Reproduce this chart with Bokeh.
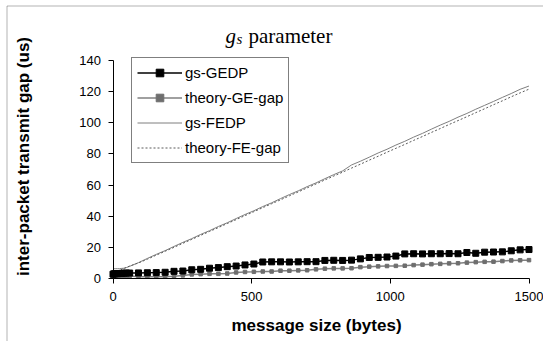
import math
from bokeh.plotting import figure
from bokeh.models import (Range1d, FixedTicker, Label, Legend, LegendItem, PolyAnnotation,
                          ColumnDataSource, LinearAxis)
from bokeh.embed import file_html
from bokeh.resources import INLINE

# ---- data ----
msg_size = [0, 4, 8, 16, 24, 32, 40, 48, 60,
            92, 124, 156, 188, 220, 252, 284, 316, 348, 380, 412, 444, 476,
            508, 540, 572, 604, 636, 668, 700, 732, 764, 796, 828, 860, 892,
            924, 956, 988, 1020, 1052, 1084, 1116, 1148, 1180, 1212, 1244,
            1276, 1308, 1340, 1372, 1404, 1436, 1468, 1500]

gs_gedp = [2.8, 3.0, 3.0, 3.1, 3.2, 3.3, 3.4, 3.5, 3.5,
           3.6, 3.7, 3.8, 4.0, 4.6, 4.8, 5.6, 5.9, 6.6, 7.0, 7.6, 8.0, 8.7,
           9.3, 10.6, 10.7, 10.7, 10.6, 10.7, 10.8, 10.8, 11.6, 11.7, 11.6, 11.8, 12.6,
           13.5, 13.6, 13.8, 14.4, 15.8, 15.9, 15.8, 15.9, 15.9, 16.0, 15.9,
           16.7, 16.2, 16.9, 17.0, 17.1, 17.8, 18.4, 18.6]

theory_ge_gap = [1.6, 1.6, 1.6, 1.6, 1.6, 1.6, 1.6, 1.6, 1.6,
                 1.2, 1.2, 1.2, 1.2, 1.5, 2.0, 2.6, 2.8, 3.0, 3.0, 3.2, 3.9, 4.2,
                 4.3, 4.5, 4.5, 5.0, 5.0, 5.2, 5.3, 5.9, 6.3, 6.5, 6.5, 6.6, 7.3,
                 7.6, 7.8, 8.0, 8.1, 8.2, 8.6, 8.9, 9.2, 9.4, 9.7, 9.8,
                 10.2, 10.5, 10.7, 10.8, 11.2, 11.6, 11.7, 11.8]

gs_fedp = [6.3, 6.3, 6.3, 6.3, 6.3, 6.5, 6.6, 7.0, 7.8,
           10.2, 12.9, 15.5, 17.9, 20.6, 23.2, 25.6, 28.3, 30.7, 33.4, 35.8, 38.5, 41.1,
           43.5, 46.2, 48.6, 51.3, 53.9, 56.3, 59.0, 61.4, 64.1, 66.7, 69.1, 72.9, 75.3,
           77.9, 80.6, 83.0, 85.7, 88.1, 90.8, 93.2, 95.9, 98.5, 100.9, 103.6,
           106.0, 108.7, 111.2, 113.7, 116.3, 118.8, 121.5, 123.6]

theory_fe_gap = [4.0, 4.0, 4.2, 4.6, 5.3, 5.9, 6.5, 7.1, 8.0,
                 10.0, 12.4, 15.0, 17.5, 20.0, 22.6, 25.1, 27.7, 30.2, 32.7, 35.3, 37.8, 40.4,
                 42.9, 45.5, 48.0, 50.5, 53.1, 55.6, 58.2, 60.7, 63.3, 65.8, 68.3, 70.9, 73.4,
                 76.0, 78.5, 81.1, 83.6, 86.1, 88.7, 91.2, 93.8, 96.3, 98.9, 101.4,
                 103.9, 106.5, 109.0, 111.6, 114.1, 116.7, 119.2, 121.6]

x_ticks = [0, 500, 1000, 1500]
y_ticks = [0, 20, 40, 60, 80, 100, 120, 140]

src = ColumnDataSource(dict(x=msg_size, gedp=gs_gedp, tge=theory_ge_gap,
                            fedp=gs_fedp, tfe=theory_fe_gap))

W, H = 543, 341
# plot-area box (canvas pixels) of the value axes
AX_L, AX_R, AX_T, AX_B = 112.5, 528.5, 60.0, 278.0
X0, X1, Y0, Y1 = 0, 1500, 0, 140
sx = (AX_R - AX_L) / (X1 - X0)
sy = (AX_B - AX_T) / (Y1 - Y0)
# the frame covers the whole canvas; the axes sit at fixed locations inside it
x_range = Range1d(X0 - AX_L / sx, X1 + (W - AX_R) / sx)
y_range = Range1d(Y0 - (H - AX_B) / sy, Y1 + AX_T / sy)

p = figure(width=W, height=H, output_backend="svg", toolbar_location=None,
           x_range=x_range, y_range=y_range, x_axis_type=None, y_axis_type=None,
           min_border=0, min_border_left=0, min_border_right=0,
           min_border_top=0, min_border_bottom=0)
p.title = None
p.outline_line_color = None
p.background_fill_color = "white"
p.border_fill_color = "white"
p.xgrid.visible = False
p.ygrid.visible = False

xaxis = LinearAxis(fixed_location=0, bounds=(X0, X1), ticker=FixedTicker(ticks=x_ticks))
yaxis = LinearAxis(fixed_location=0, bounds=(Y0, Y1), ticker=FixedTicker(ticks=y_ticks))
for ax in (xaxis, yaxis):
    ax.axis_line_color = "black"
    ax.major_tick_line_color = "black"
    ax.minor_tick_line_color = None
    ax.major_tick_in = 0
    ax.major_tick_out = 5
    ax.major_label_text_font = "Liberation Sans"
    ax.major_label_text_font_size = "13px"
    ax.major_label_text_color = "black"
xaxis.major_label_standoff = 8
yaxis.major_label_standoff = 7
p.add_layout(xaxis, "below")
p.add_layout(yaxis, "left")

# series
r_fedp = p.line("x", "fedp", source=src, line_color="#7f7f7f", line_width=1)
r_tfe = p.line("x", "tfe", source=src, line_color="#5a5a5a", line_width=1, line_dash="2 2")
r_tge_l = p.line("x", "tge", source=src, line_color="#808080", line_width=1.5)
r_tge_m = p.scatter("x", "tge", source=src, marker="square", size=3.5,
                    fill_color="#6e6e6e", line_color="#6e6e6e")
r_gedp_l = p.line("x", "gedp", source=src, line_color="black", line_width=1.5)
r_gedp_m = p.scatter("x", "gedp", source=src, marker="square", size=6,
                     fill_color="black", line_color="black")

legend = Legend(items=[
    LegendItem(label="gs-GEDP", renderers=[r_gedp_l, r_gedp_m]),
    LegendItem(label="theory-GE-gap", renderers=[r_tge_l, r_tge_m]),
    LegendItem(label="gs-FEDP", renderers=[r_fedp]),
    LegendItem(label="theory-FE-gap", renderers=[r_tfe]),
], location=(131, H - 163))
legend.border_line_color = "black"
legend.border_line_width = 1
legend.background_fill_color = "white"
legend.background_fill_alpha = 1
legend.label_text_font = "Liberation Sans"
legend.label_text_font_size = "15px"
legend.label_text_color = "black"
legend.glyph_width = 45
legend.glyph_height = 19
legend.label_height = 19
legend.spacing = 6
legend.padding = 5
legend.margin = 0
legend.label_standoff = 3
p.add_layout(legend, "center")


def canvas_label(cx, cy, text, **kw):
    p.add_layout(Label(x=cx, y=H - cy, x_units="screen", y_units="screen", text=text,
                       text_color="black", **kw))


# title  "g_s parameter"
canvas_label(225, 35, "g", text_font="Liberation Serif", text_font_style="italic",
             text_font_size="21px", text_baseline="alphabetic")
canvas_label(236, 38, "s", text_font="Liberation Serif", text_font_style="italic",
             text_font_size="15px", text_baseline="alphabetic")
canvas_label(248, 35, "parameter", text_font="Liberation Serif",
             text_font_size="21px", text_baseline="alphabetic")

# axis titles
canvas_label(23, 156, "inter-packet transmit gap (us)", angle=math.pi / 2,
             text_font="Liberation Sans", text_font_style="bold",
             text_font_size="17px", text_align="center", text_baseline="middle")
canvas_label(316, 325, "message size (bytes)",
             text_font="Liberation Sans", text_font_style="bold",
             text_font_size="17px", text_align="center", text_baseline="middle")

# outer chart border: only its left and top edges fall inside the window
p.add_layout(PolyAnnotation(xs=[6.5, 6.5, 3000, 3000], ys=[-3000, H - 5.5, H - 5.5, -3000],
                            xs_units="screen", ys_units="screen",
                            fill_alpha=0, line_color="black", line_width=1))

open("out.html", "w").write(file_html(p, INLINE))
